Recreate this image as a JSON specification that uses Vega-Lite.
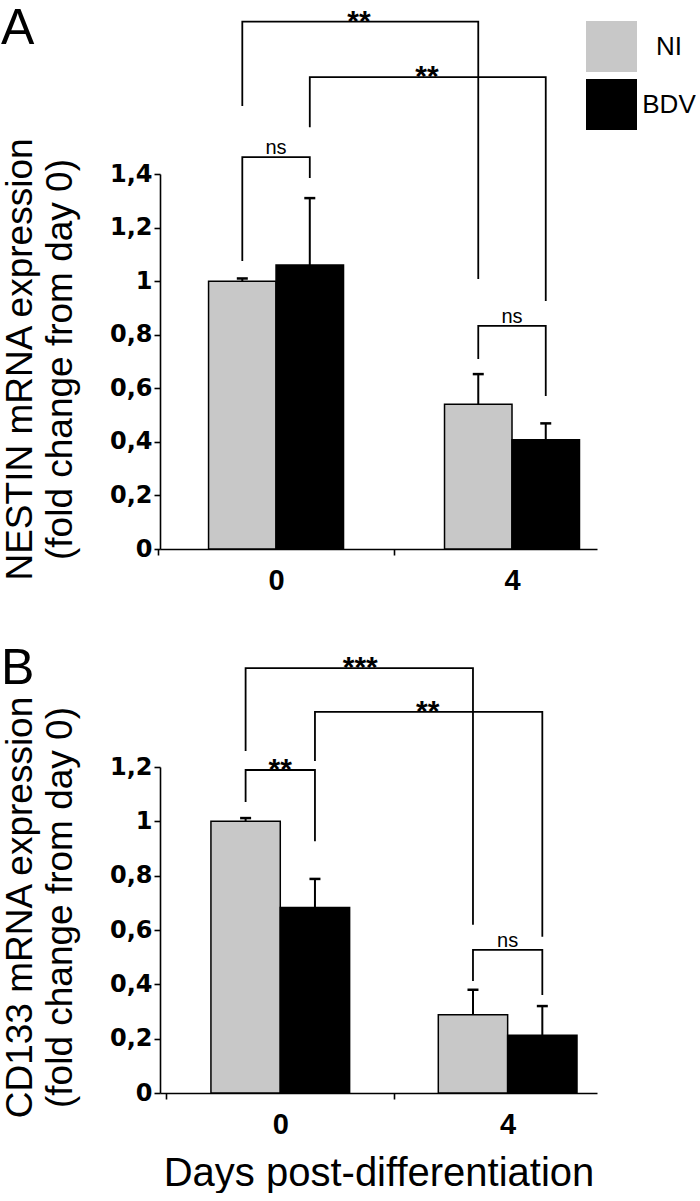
{
  "$schema": "https://vega.github.io/schema/vega-lite/v6.json",
  "background": "white",
  "padding": {"left": 0, "top": 3, "right": 0, "bottom": 0},
  "spacing": 49,
  "config": {
    "font": "Liberation Sans",
    "view": {"stroke": null},
    "axis": {
      "domainColor": "black", "domainWidth": 1.6, "tickColor": "black", "tickWidth": 1.6,
      "labelColor": "black", "titleColor": "black", "labelFont": "Liberation Sans", "titleFont": "Liberation Sans",
      "grid": false
    }
  },
  "resolve": {"scale": {"xOffset": "independent", "color": "independent"}, "legend": {"color": "independent"}},
  "datasets": {
    "barsA": [
      {"day": "0", "group": "NI", "value": 1.0, "upper": 1.01},
      {"day": "0", "group": "BDV", "value": 1.06, "upper": 1.31},
      {"day": "4", "group": "NI", "value": 0.54, "upper": 0.653},
      {"day": "4", "group": "BDV", "value": 0.408, "upper": 0.469}
    ],
    "bracketsA": [
      {"id": "b1", "seq": 1, "day": "0", "group": "NI", "y": 1.654},
      {"id": "b1", "seq": 2, "day": "0", "group": "NI", "y": 1.969},
      {"id": "b1", "seq": 3, "day": "4", "group": "NI", "y": 1.969},
      {"id": "b1", "seq": 4, "day": "4", "group": "NI", "y": 1.008},
      {"id": "b2", "seq": 1, "day": "0", "group": "BDV", "y": 1.575},
      {"id": "b2", "seq": 2, "day": "0", "group": "BDV", "y": 1.762},
      {"id": "b2", "seq": 3, "day": "4", "group": "BDV", "y": 1.762},
      {"id": "b2", "seq": 4, "day": "4", "group": "BDV", "y": 0.926},
      {"id": "b3", "seq": 1, "day": "0", "group": "NI", "y": 1.075},
      {"id": "b3", "seq": 2, "day": "0", "group": "NI", "y": 1.463},
      {"id": "b3", "seq": 3, "day": "0", "group": "BDV", "y": 1.463},
      {"id": "b3", "seq": 4, "day": "0", "group": "BDV", "y": 1.385},
      {"id": "b4", "seq": 1, "day": "4", "group": "NI", "y": 0.709},
      {"id": "b4", "seq": 2, "day": "4", "group": "NI", "y": 0.833},
      {"id": "b4", "seq": 3, "day": "4", "group": "BDV", "y": 0.833},
      {"id": "b4", "seq": 4, "day": "4", "group": "BDV", "y": 0.571}
    ],
    "labelsA": [
      {"day": "0", "y": 1.463, "text": "ns", "pos": "within"},
      {"day": "4", "y": 0.833, "text": "ns", "pos": "within"},
      {"day": "0", "y": 1.969, "text": "**", "pos": "leftcross"},
      {"day": "4", "y": 1.762, "text": "**", "pos": "rightcross"}
    ],
    "barsB": [
      {"day": "0", "group": "NI", "value": 1.0, "upper": 1.012},
      {"day": "0", "group": "BDV", "value": 0.683, "upper": 0.788},
      {"day": "4", "group": "NI", "value": 0.288, "upper": 0.38},
      {"day": "4", "group": "BDV", "value": 0.213, "upper": 0.32}
    ],
    "bracketsB": [
      {"id": "b1", "seq": 1, "day": "0", "group": "NI", "y": 1.259},
      {"id": "b1", "seq": 2, "day": "0", "group": "NI", "y": 1.564},
      {"id": "b1", "seq": 3, "day": "4", "group": "NI", "y": 1.564},
      {"id": "b1", "seq": 4, "day": "4", "group": "NI", "y": 0.619},
      {"id": "b2", "seq": 1, "day": "0", "group": "BDV", "y": 1.222},
      {"id": "b2", "seq": 2, "day": "0", "group": "BDV", "y": 1.403},
      {"id": "b2", "seq": 3, "day": "4", "group": "BDV", "y": 1.403},
      {"id": "b2", "seq": 4, "day": "4", "group": "BDV", "y": 0.575},
      {"id": "b3", "seq": 1, "day": "0", "group": "NI", "y": 1.071},
      {"id": "b3", "seq": 2, "day": "0", "group": "NI", "y": 1.189},
      {"id": "b3", "seq": 3, "day": "0", "group": "BDV", "y": 1.189},
      {"id": "b3", "seq": 4, "day": "0", "group": "BDV", "y": 0.927},
      {"id": "b4", "seq": 1, "day": "4", "group": "NI", "y": 0.412},
      {"id": "b4", "seq": 2, "day": "4", "group": "NI", "y": 0.527},
      {"id": "b4", "seq": 3, "day": "4", "group": "BDV", "y": 0.527},
      {"id": "b4", "seq": 4, "day": "4", "group": "BDV", "y": 0.361}
    ],
    "labelsB": [
      {"day": "0", "y": 1.189, "text": "**", "pos": "within"},
      {"day": "4", "y": 0.527, "text": "ns", "pos": "within"},
      {"day": "0", "y": 1.564, "text": "***", "pos": "leftcross"},
      {"day": "4", "y": 1.403, "text": "**", "pos": "rightcross"}
    ]
  },
  "vconcat": [
    {
      "width": 437,
      "height": 375,
      "title": {"text": "A", "anchor": "start", "frame": "group", "dx": -159, "offset": -87, "fontSize": 50, "fontWeight": "normal", "baseline": "alphabetic", "color": "black"},
      "layer": [
        {
          "data": {"name": "barsA"},
          "mark": {"type": "bar", "stroke": "black", "strokeWidth": 1.5},
          "encoding": {
            "x": {"field": "day", "type": "nominal", "sort": ["0", "4"],
              "scale": {"paddingInner": 0.428, "paddingOuter": 0.14, "align": 0.735},
              "axis": {"title": null, "labelAngle": 0, "labelFontSize": 29, "labelFontWeight": "bold", "bandPosition": 0, "tickOffset": -50.5, "labelOffset": 50.5, "tickSize": 6, "labelPadding": 11}},
            "xOffset": {"field": "group", "type": "nominal", "sort": ["NI", "BDV"], "scale": {"domain": ["NI", "BDV"], "paddingInner": 0, "paddingOuter": 0}},
            "y": {"field": "value", "type": "quantitative",
              "scale": {"domain": [0, 1.4], "nice": false},
              "axis": {"values": [0, 0.2, 0.4, 0.6, 0.8, 1, 1.2, 1.4], "labelExpr": "replace(format(datum.value, '.1~f'), '.', ',')",
                "title": ["NESTIN mRNA expression", "(fold change from day 0)"], "titleFontSize": 37, "titleFontWeight": "normal",
                "titleLineHeight": 40, "titleX": -121, "titleY": 185, "titleBaseline": "bottom", "titleAngle": -90,
                "labelFont": "DejaVu Sans", "labelFontSize": 24, "labelFontWeight": "bold", "labelPadding": 2, "tickSize": 6}},
            "color": {"field": "group", "type": "nominal", "scale": {"domain": ["NI", "BDV"], "range": ["#c8c8c8", "#000000"]},
              "legend": {"title": null, "orient": "none", "legendX": 426, "legendY": -153, "symbolType": "square", "symbolSize": 2601, "symbolStrokeWidth": 0,
                "labelFontSize": 26, "labelAlign": "center", "labelOffset": 32, "rowPadding": 7, "padding": 0, "labelColor": "black", "labelFont": "Liberation Sans"}}
          }
        },
        {
          "data": {"name": "barsA"},
          "mark": {"type": "rule", "color": "black", "strokeWidth": 2},
          "encoding": {
            "x": {"field": "day", "type": "nominal", "sort": ["0", "4"]},
            "xOffset": {"field": "group", "type": "nominal", "sort": ["NI", "BDV"]},
            "y": {"field": "value", "type": "quantitative"},
            "y2": {"field": "upper"}
          }
        },
        {
          "data": {"name": "barsA"},
          "mark": {"type": "tick", "color": "black", "thickness": 2.5, "size": 11, "orient": "horizontal", "opacity": 1},
          "encoding": {
            "x": {"field": "day", "type": "nominal", "sort": ["0", "4"]},
            "xOffset": {"field": "group", "type": "nominal", "sort": ["NI", "BDV"]},
            "y": {"field": "upper", "type": "quantitative"}
          }
        },
        {
          "data": {"name": "bracketsA"},
          "mark": {"type": "line", "color": "black", "strokeWidth": 1.8},
          "encoding": {
            "x": {"field": "day", "type": "nominal", "sort": ["0", "4"]},
            "xOffset": {"field": "group", "type": "nominal", "sort": ["NI", "BDV"]},
            "y": {"field": "y", "type": "quantitative"},
            "detail": {"field": "id"},
            "order": {"field": "seq", "type": "quantitative"}
          }
        },
        {
          "data": {"name": "labelsA"},
          "transform": [{"filter": "datum.text == 'ns'"}],
          "mark": {"type": "text", "fontSize": 20, "baseline": "alphabetic", "dy": -3, "color": "black"},
          "encoding": {
            "x": {"field": "day", "type": "nominal", "sort": ["0", "4"]},
            "y": {"field": "y", "type": "quantitative"},
            "text": {"field": "text"}
          }
        },
        {
          "data": {"name": "labelsA"},
          "transform": [{"filter": "datum.pos == 'leftcross'"}],
          "mark": {"type": "text", "fontSize": 30, "fontWeight": "bold", "baseline": "alphabetic", "dy": 9, "dx": 83, "color": "black"},
          "encoding": {
            "x": {"field": "day", "type": "nominal", "sort": ["0", "4"]},
            "y": {"field": "y", "type": "quantitative"},
            "text": {"field": "text"}
          }
        },
        {
          "data": {"name": "labelsA"},
          "transform": [{"filter": "datum.pos == 'rightcross'"}],
          "mark": {"type": "text", "fontSize": 30, "fontWeight": "bold", "baseline": "alphabetic", "dy": 9, "dx": -85, "color": "black"},
          "encoding": {
            "x": {"field": "day", "type": "nominal", "sort": ["0", "4"]},
            "y": {"field": "y", "type": "quantitative"},
            "text": {"field": "text"}
          }
        }
      ]
    },
    {
      "width": 437,
      "height": 326,
      "title": {"text": "B", "anchor": "start", "frame": "group", "dx": -159, "offset": -81, "fontSize": 50, "fontWeight": "normal", "baseline": "alphabetic", "color": "black"},
      "layer": [
        {
          "data": {"name": "barsB"},
          "mark": {"type": "bar", "stroke": "black", "strokeWidth": 1.5},
          "encoding": {
            "x": {"field": "day", "type": "nominal", "sort": ["0", "4"],
              "scale": {"paddingInner": 0.39, "paddingOuter": 0.156, "align": 0.718},
              "axis": {"title": "Days post-differentiation", "titleFontSize": 40, "titleFontWeight": "normal", "titlePadding": 14, "labelAngle": 0, "labelFontSize": 29, "labelFontWeight": "bold", "bandPosition": 0, "tickOffset": -44.5, "labelOffset": 44.5, "tickSize": 6, "labelPadding": 11}},
            "xOffset": {"field": "group", "type": "nominal", "sort": ["NI", "BDV"], "scale": {"domain": ["NI", "BDV"], "paddingInner": 0, "paddingOuter": 0}},
            "y": {"field": "value", "type": "quantitative",
              "scale": {"domain": [0, 1.2], "nice": false},
              "axis": {"values": [0, 0.2, 0.4, 0.6, 0.8, 1, 1.2], "labelExpr": "replace(format(datum.value, '.1~f'), '.', ',')",
                "title": ["CD133 mRNA expression", "(fold change from day 0)"], "titleFontSize": 37, "titleFontWeight": "normal",
                "titleLineHeight": 40, "titleX": -121, "titleY": 140, "titleBaseline": "bottom", "titleAngle": -90,
                "labelFont": "DejaVu Sans", "labelFontSize": 24, "labelFontWeight": "bold", "labelPadding": 2, "tickSize": 6}},
            "color": {"field": "group", "type": "nominal", "scale": {"domain": ["NI", "BDV"], "range": ["#c8c8c8", "#000000"]}, "legend": null}
          }
        },
        {
          "data": {"name": "barsB"},
          "mark": {"type": "rule", "color": "black", "strokeWidth": 2},
          "encoding": {
            "x": {"field": "day", "type": "nominal", "sort": ["0", "4"]},
            "xOffset": {"field": "group", "type": "nominal", "sort": ["NI", "BDV"]},
            "y": {"field": "value", "type": "quantitative"},
            "y2": {"field": "upper"}
          }
        },
        {
          "data": {"name": "barsB"},
          "mark": {"type": "tick", "color": "black", "thickness": 2.5, "size": 11, "orient": "horizontal", "opacity": 1},
          "encoding": {
            "x": {"field": "day", "type": "nominal", "sort": ["0", "4"]},
            "xOffset": {"field": "group", "type": "nominal", "sort": ["NI", "BDV"]},
            "y": {"field": "upper", "type": "quantitative"}
          }
        },
        {
          "data": {"name": "bracketsB"},
          "mark": {"type": "line", "color": "black", "strokeWidth": 1.8},
          "encoding": {
            "x": {"field": "day", "type": "nominal", "sort": ["0", "4"]},
            "xOffset": {"field": "group", "type": "nominal", "sort": ["NI", "BDV"]},
            "y": {"field": "y", "type": "quantitative"},
            "detail": {"field": "id"},
            "order": {"field": "seq", "type": "quantitative"}
          }
        },
        {
          "data": {"name": "labelsB"},
          "transform": [{"filter": "datum.text == 'ns'"}],
          "mark": {"type": "text", "fontSize": 20, "baseline": "alphabetic", "dy": -3, "color": "black"},
          "encoding": {
            "x": {"field": "day", "type": "nominal", "sort": ["0", "4"]},
            "y": {"field": "y", "type": "quantitative"},
            "text": {"field": "text"}
          }
        },
        {
          "data": {"name": "labelsB"},
          "transform": [{"filter": "datum.pos == 'within' && datum.text != 'ns'"}],
          "mark": {"type": "text", "fontSize": 30, "fontWeight": "bold", "baseline": "alphabetic", "dy": 9, "color": "black"},
          "encoding": {
            "x": {"field": "day", "type": "nominal", "sort": ["0", "4"]},
            "y": {"field": "y", "type": "quantitative"},
            "text": {"field": "text"}
          }
        },
        {
          "data": {"name": "labelsB"},
          "transform": [{"filter": "datum.pos == 'leftcross'"}],
          "mark": {"type": "text", "fontSize": 30, "fontWeight": "bold", "baseline": "alphabetic", "dy": 9, "dx": 80, "color": "black"},
          "encoding": {
            "x": {"field": "day", "type": "nominal", "sort": ["0", "4"]},
            "y": {"field": "y", "type": "quantitative"},
            "text": {"field": "text"}
          }
        },
        {
          "data": {"name": "labelsB"},
          "transform": [{"filter": "datum.pos == 'rightcross'"}],
          "mark": {"type": "text", "fontSize": 30, "fontWeight": "bold", "baseline": "alphabetic", "dy": 9, "dx": -80, "color": "black"},
          "encoding": {
            "x": {"field": "day", "type": "nominal", "sort": ["0", "4"]},
            "y": {"field": "y", "type": "quantitative"},
            "text": {"field": "text"}
          }
        }
      ]
    }
  ]
}
